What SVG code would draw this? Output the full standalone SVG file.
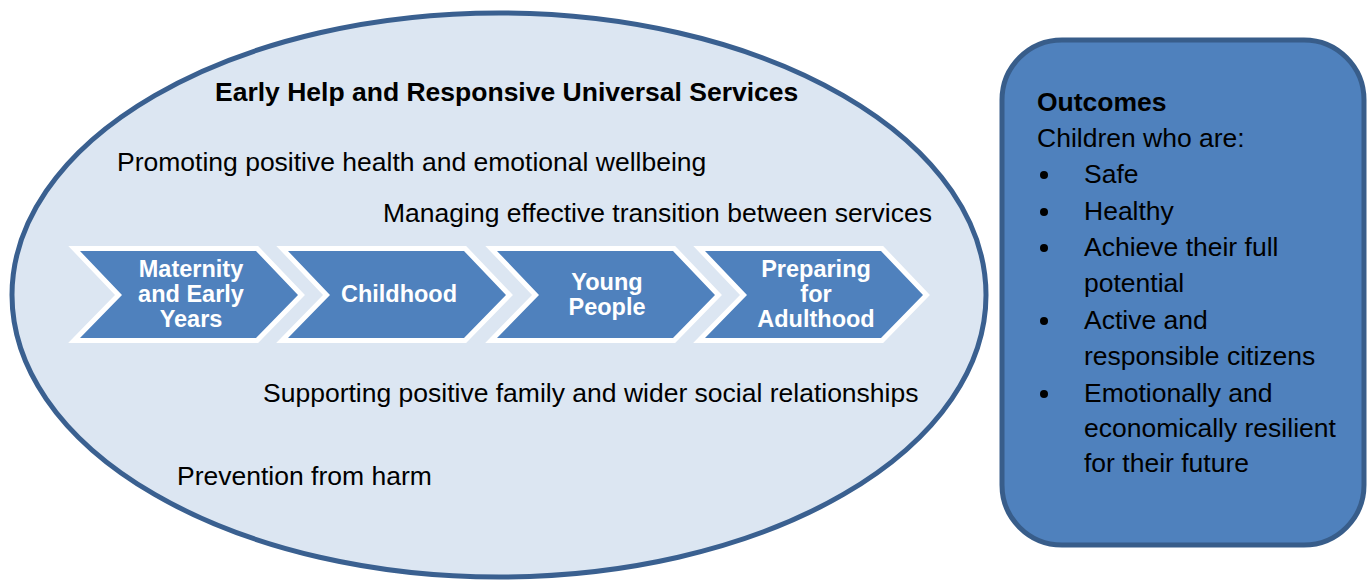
<svg xmlns="http://www.w3.org/2000/svg" width="1369" height="580" viewBox="0 0 1369 580">
<style>
.t{font-family:"Liberation Sans",Arial,sans-serif;font-size:26.5px;fill:#000}
.b{font-weight:bold}
.cv{fill:#4f81bd;stroke:#fff;stroke-width:10;stroke-linejoin:miter;stroke-miterlimit:10;paint-order:stroke}
.ct{font-family:"Liberation Sans",Arial,sans-serif;font-size:23.5px;font-weight:bold;fill:#fff;text-anchor:middle}
</style>
<rect width="1369" height="580" fill="#fff"/>
<g id="services">
<ellipse cx="499" cy="295" rx="487" ry="282" fill="#dce6f2" stroke="#3a6090" stroke-width="5"/>
<text class="t b" x="215" y="101">Early Help and Responsive Universal Services</text>
<text class="t" x="117" y="171">Promoting positive health and emotional wellbeing</text>
<text class="t" x="383" y="222">Managing effective transition between services</text>
<text class="t" x="263" y="402">Supporting positive family and wider social relationships</text>
<text class="t" x="177" y="485">Prevention from harm</text>
</g>
<g id="chevron-maternity">
<polygon class="cv" points="80,251 256,251 298,295 256,338 80,338 122,295"/>
<text class="ct" x="191" y="277">Maternity</text>
<text class="ct" x="191" y="302">and Early</text>
<text class="ct" x="191" y="327">Years</text>
</g>
<g id="chevron-childhood">
<polygon class="cv" points="288,251 464,251 506,295 464,338 288,338 330,295"/>
<text class="ct" x="399" y="302">Childhood</text>
</g>
<g id="chevron-young">
<polygon class="cv" points="497,251 673,251 715,295 673,338 497,338 539,295"/>
<text class="ct" x="607" y="290">Young</text>
<text class="ct" x="607" y="315">People</text>
</g>
<g id="chevron-adulthood">
<polygon class="cv" points="705,251 881,251 923,295 881,338 705,338 747,295"/>
<text class="ct" x="816" y="277">Preparing</text>
<text class="ct" x="816" y="302">for</text>
<text class="ct" x="816" y="327">Adulthood</text>
</g>
<g id="outcomes">
<rect x="1002" y="40" width="362" height="505" rx="60" ry="60" fill="#4f81bd" stroke="#385d8a" stroke-width="5"/>
<text class="t b" x="1037" y="111">Outcomes</text>
<text class="t" x="1037" y="147">Children who are:</text>
<g fill="#000">
<circle cx="1044" cy="175" r="4"/>
<circle cx="1044" cy="212" r="4"/>
<circle cx="1044" cy="248" r="4"/>
<circle cx="1044" cy="321" r="4"/>
<circle cx="1044" cy="394" r="4"/>
</g>
<text class="t" x="1084" y="183">Safe</text>
<text class="t" x="1084" y="220">Healthy</text>
<text class="t" x="1084" y="256">Achieve their full</text>
<text class="t" x="1084" y="292">potential</text>
<text class="t" x="1084" y="329">Active and</text>
<text class="t" x="1084" y="365">responsible citizens</text>
<text class="t" x="1084" y="402">Emotionally and</text>
<text class="t" x="1084" y="437">economically resilient</text>
<text class="t" x="1084" y="472">for their future</text>
</g>
<g id="connectors"/>
</svg>
